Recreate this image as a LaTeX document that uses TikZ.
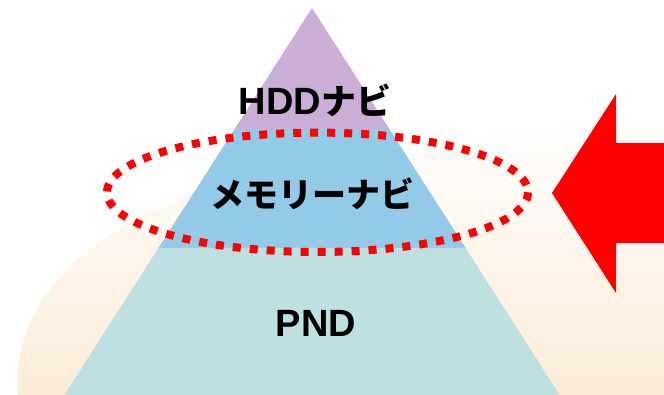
\documentclass[tikz,border=0pt]{standalone}
\usepackage{fontspec}
\setmainfont{Liberation Sans}
\newfontfamily\jpfont{Noto Sans CJK JP}
\usetikzlibrary{positioning}

\definecolor{topviolet}{RGB}{203,174,214}
\definecolor{midblue}{RGB}{147,202,232}
\definecolor{baseteal}{RGB}{190,224,224}
\definecolor{glow}{RGB}{251,236,216}

\begin{document}
\begin{tikzpicture}[x=1pt, y=-1pt, every node/.style={font=\fontsize{38}{42}\selectfont\bfseries, inner sep=0pt}, level/.style={draw=none}, ring/.style={draw=red, line width=8pt, dash pattern=on 8pt off 9pt}]
\useasboundingbox (0,0) rectangle (664,395);
% soft background glow
\shade[top color=white, bottom color=glow] (18,395) .. controls (10,300) and (90,230) .. (200,190) .. controls (330,150) and (500,130) .. (664,118) -- (664,395) -- cycle;
% pyramid corners
\coordinate (apex) at (312,8);
\coordinate (tl) at (234.6,129);
\coordinate (tr) at (389.4,129);
\coordinate (ml) at (158.4,248);
\coordinate (mr) at (465.6,248);
\coordinate (bl) at (64.3,395);
\coordinate (br) at (559.7,395);
\fill[topviolet, level] (apex) -- (tr) -- (tl) -- cycle;
\fill[midblue, level] (tl) -- (tr) -- (mr) -- (ml) -- cycle;
\fill[baseteal, level] (ml) -- (mr) -- (br) -- (bl) -- cycle;
\node (hdd) at (315,100) {HDD{\jpfont\fontsize{35}{40}\selectfont ナビ}};
\node (memory) at (312,194) {\jpfont\fontsize{34}{36}\selectfont メモリーナビ};
\node (pnd) at (316,323) {PND};
% dotted ring round the middle layer
\draw[ring] (317.5,192.3) ellipse [x radius=210.5, y radius=59.7];
% big arrow on the right
\fill[red] (552,193) -- (616,94) -- (616,143) -- (664,143) -- (664,243) -- (616,243) -- (616,293) -- cycle;
\end{tikzpicture}
\end{document}
